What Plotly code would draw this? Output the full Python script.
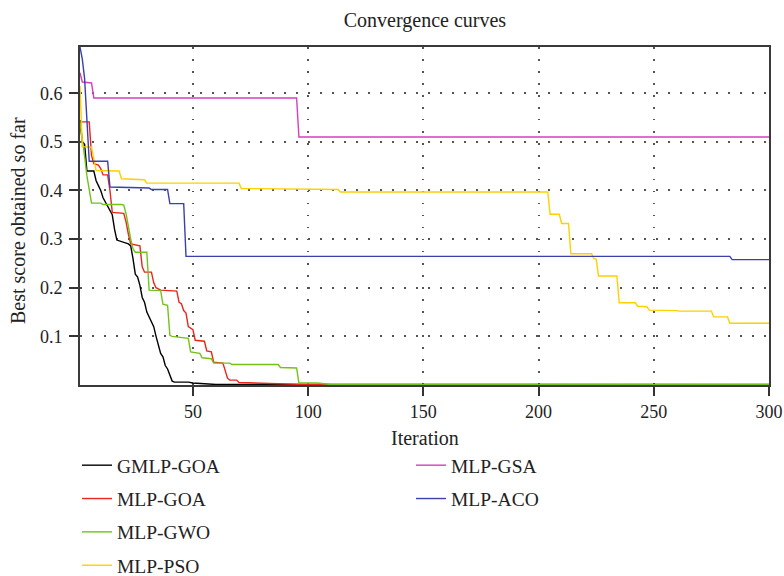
import plotly.graph_objects as go

# ---- data (iteration, best score) breakpoints ----
gmlp_goa_x = [1, 2, 3, 4, 7, 8, 9, 10, 11, 12, 13, 14, 15, 16, 17, 22, 23, 24, 25, 26, 27, 28, 29, 30, 31,
              32, 33, 34, 35, 36, 37, 38, 39, 40, 41, 42, 48, 50, 55, 60, 300]
gmlp_goa_y = [0.545, 0.50, 0.495, 0.44, 0.44, 0.42, 0.41, 0.40, 0.385, 0.376, 0.37, 0.36, 0.35, 0.32, 0.298,
              0.29, 0.286, 0.26, 0.228, 0.222, 0.205, 0.18, 0.17, 0.15, 0.14, 0.128, 0.12, 0.10, 0.085, 0.065,
              0.058, 0.04, 0.033, 0.02, 0.008, 0.006, 0.006, 0.004, 0.002, 0.001, 0.001]

mlp_goa_x = [1, 5, 6, 7, 9, 10, 11, 13, 14, 15, 20, 21, 22, 23, 27, 28, 29, 32, 33, 34, 36, 43, 44, 45, 46,
             47, 48, 50, 51, 55, 56, 58, 59, 63, 64, 65, 66, 69, 70, 76, 85, 100, 300]
mlp_goa_y = [0.541, 0.541, 0.472, 0.455, 0.452, 0.445, 0.432, 0.432, 0.40, 0.355, 0.353, 0.335, 0.31, 0.29,
             0.286, 0.243, 0.232, 0.232, 0.21, 0.20, 0.195, 0.193, 0.17, 0.167, 0.153, 0.148, 0.12, 0.114,
             0.092, 0.09, 0.07, 0.068, 0.047, 0.045, 0.03, 0.014, 0.01, 0.01, 0.005, 0.004, 0.002, 0.0008,
             0.0008]

mlp_gwo_x = [1, 2, 3, 4, 5, 6, 10, 11, 19, 20, 21, 22, 23, 24, 25, 30, 31, 36, 37, 39, 40, 41, 48, 49, 53,
             54, 58, 59, 66, 67, 87, 88, 95, 96, 104, 110, 300]
mlp_gwo_y = [0.54, 0.51, 0.47, 0.43, 0.40, 0.374, 0.374, 0.371, 0.371, 0.37, 0.352, 0.325, 0.30, 0.28, 0.273,
             0.273, 0.195, 0.194, 0.166, 0.164, 0.102, 0.10, 0.096, 0.068, 0.065, 0.056, 0.054, 0.045, 0.045,
             0.042, 0.042, 0.036, 0.035, 0.004, 0.004, 0.001, 0.0008]

mlp_pso_x = [1, 2, 6, 7, 8, 18, 19, 29, 30, 70, 71, 113, 114, 204, 205, 209, 210, 213, 214, 223, 224, 225,
             226, 234, 235, 242, 243, 247, 248, 260, 261, 275, 276, 282, 283, 300]
mlp_pso_y = [0.615, 0.49, 0.489, 0.465, 0.441, 0.44, 0.424, 0.422, 0.415, 0.415, 0.404, 0.402, 0.397, 0.397,
             0.351, 0.351, 0.332, 0.332, 0.27, 0.27, 0.26, 0.259, 0.224, 0.224, 0.169, 0.169, 0.162, 0.161,
             0.154, 0.153, 0.152, 0.152, 0.14, 0.14, 0.127, 0.127]

mlp_gsa_x = [1, 2, 6, 7, 95, 96, 300]
mlp_gsa_y = [0.642, 0.623, 0.621, 0.59, 0.59, 0.51, 0.51]

mlp_aco_x = [1, 2, 3, 4, 5, 13, 14, 31, 32, 39, 40, 46, 47, 283, 284, 300]
mlp_aco_y = [0.695, 0.67, 0.63, 0.54, 0.46, 0.46, 0.407, 0.405, 0.402, 0.402, 0.373, 0.373, 0.2645, 0.2645,
             0.2577, 0.2577]

names = ["GMLP-GOA", "MLP-GOA", "MLP-GWO", "MLP-PSO", "MLP-GSA", "MLP-ACO"]
colors = ["#000000", "#e8261c", "#72c21a", "#ffd000", "#d53fbf", "#3b40ac"]
series = [(gmlp_goa_x, gmlp_goa_y), (mlp_goa_x, mlp_goa_y), (mlp_gwo_x, mlp_gwo_y),
          (mlp_pso_x, mlp_pso_y), (mlp_gsa_x, mlp_gsa_y), (mlp_aco_x, mlp_aco_y)]
legends = ["legend", "legend", "legend", "legend", "legend2", "legend2"]

x_ticks = [50, 100, 150, 200, 250, 300]
y_ticks = [0.1, 0.2, 0.3, 0.4, 0.5, 0.6]

FONT = "Liberation Serif, Times New Roman, serif"
TXT = "#222222"

fig = go.Figure()
for i, ((xs, ys), name, col, lg) in enumerate(zip(series, names, colors, legends)):
    fig.add_trace(go.Scatter(x=xs, y=ys, mode="lines", name=name,
                             line=dict(color=col, width=1.4),
                             legend=lg, legendgroup=f"g{i}"))

axis_common = dict(showline=True, linecolor="#3a3a3a", linewidth=2, mirror=True,
                   showgrid=True, gridcolor="#555555", gridwidth=1.5, griddash="1.5px,10.5px",
                   zeroline=False, ticks="outside", ticklen=9, tickwidth=1.5, tickcolor="#333333",
                   tickfont=dict(family=FONT, size=18, color=TXT))

fig.update_xaxes(range=[1, 300], tickvals=x_ticks, ticktext=[str(v) for v in x_ticks], tickangle=0,
                 **axis_common)
fig.update_yaxes(range=[0, 0.695], tickvals=y_ticks, ticktext=[f"{v:.1f}" for v in y_ticks],
                 ticklabelstandoff=3, **axis_common)

# axis titles as annotations (placed relative to the plot area)
fig.add_annotation(text="Iteration", xref="paper", yref="paper", x=0.5, y=0, yshift=-53,
                   xanchor="center", yanchor="middle", showarrow=False,
                   font=dict(family=FONT, size=20, color=TXT))
fig.add_annotation(text="Best score obtained so far", xref="paper", yref="paper", x=0, y=0.5,
                   xshift=-62, yshift=-5, textangle=-90, xanchor="center", yanchor="middle",
                   showarrow=False, font=dict(family=FONT, size=20, color=TXT))

legend_common = dict(xref="container", yref="container", xanchor="left", yanchor="top",
                     bgcolor="rgba(0,0,0,0)", font=dict(family=FONT, size=19.5, color=TXT),
                     tracegroupgap=5, orientation="v")

fig.update_layout(
    width=784, height=576,
    margin=dict(l=80, r=15, t=47, b=191, autoexpand=False),
    paper_bgcolor="white", plot_bgcolor="white",
    title=dict(text="Convergence curves", x=0.542, xanchor="center", y=0.965, yanchor="middle",
               font=dict(family=FONT, size=20, color=TXT)),
    legend=dict(x=77 / 784, y=1 - 446 / 576, **legend_common),
    legend2=dict(x=411 / 784, y=1 - 446 / 576, **legend_common),
)

fig.write_html("out.html", config={"displayModeBar": False},
               post_script="document.body.style.margin='0px';")
